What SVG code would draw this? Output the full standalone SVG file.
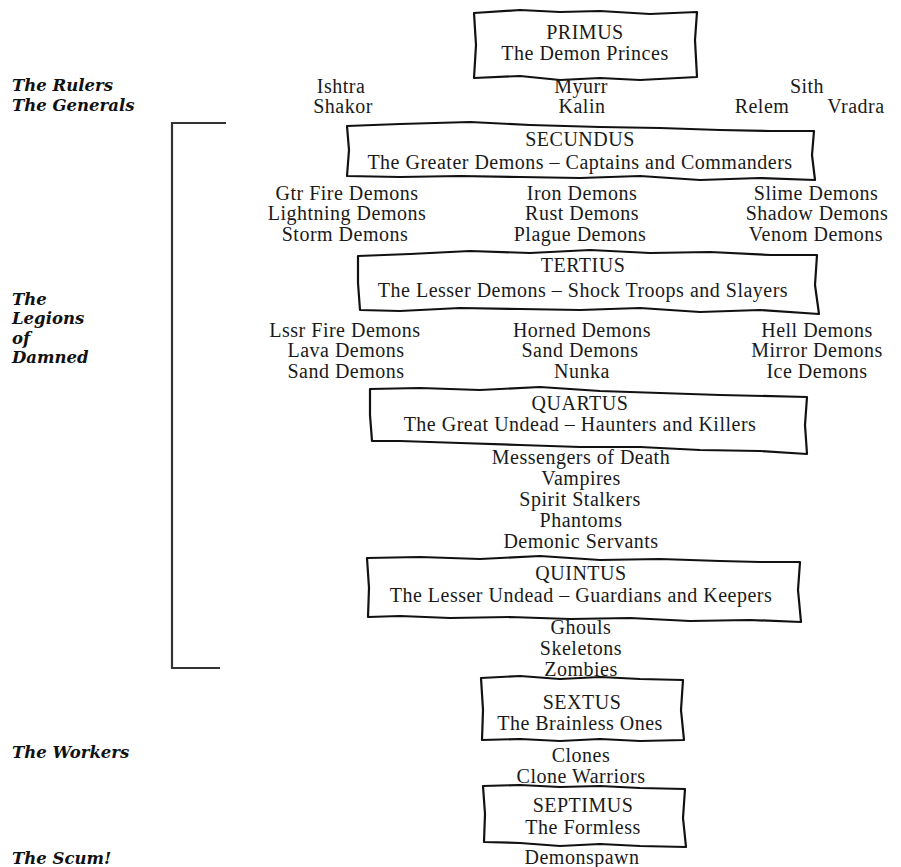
<svg xmlns="http://www.w3.org/2000/svg" width="901" height="867" viewBox="0 0 901 867">
<style>
.t{font-family:"Liberation Serif","Times New Roman",serif;font-size:20px;letter-spacing:0.5px;fill:#1a1a1a;text-anchor:middle}
.l{font-family:"DejaVu Serif","Liberation Serif",serif;font-size:16.5px;font-weight:bold;font-style:italic;fill:#111}
.box{fill:none;stroke:#111;stroke-width:2.2;stroke-linejoin:round}
.br{fill:none;stroke:#333;stroke-width:2.2}
</style>
<rect width="901" height="867" fill="#ffffff"/>

<g id="labels">
<text class="l" x="12" y="91">The Rulers</text>
<text class="l" x="12" y="111">The Generals</text>
<text class="l" x="12" y="305">The</text>
<text class="l" x="12" y="324">Legions</text>
<text class="l" x="12" y="344">of</text>
<text class="l" x="12" y="363">Damned</text>
<text class="l" x="12" y="758">The Workers</text>
<text class="l" x="12" y="864">The Scum!</text>
</g>

<g id="bracket">
<path class="br" d="M226,123 L172,123 L172,668 L220,668"/>
</g>

<g id="primus">
<path class="box" d="M474,13 L520,10 L560,12 L600,11 L650,14 L697,12 L695,40 L697,77 L640,80 L600,78 L560,80 L520,76 L474,78 L476,45 Z"/>
<text class="t" x="585" y="39">PRIMUS</text>
<text class="t" x="585" y="60">The Demon Princes</text>
</g>

<g id="rulers">
<text class="t" x="341" y="93">Ishtra</text>
<text class="t" x="343" y="113">Shakor</text>
<text class="t" x="581" y="93">Myurr</text>
<text class="t" x="582" y="113">Kalin</text>
<text class="t" x="807" y="93">Sith</text>
<text class="t" x="762" y="113">Relem</text>
<text class="t" x="856" y="113">Vradra</text>
</g>

<g id="secundus">
<path class="box" d="M347,126 L400,124 L470,122 L530,125 L600,127 L660,128 L720,130 L770,131 L814,131 L812,155 L815,180 L760,178 L700,180 L640,176 L580,178 L520,177 L460,176 L400,177 L347,176 L349,150 Z"/>
<text class="t" x="580" y="146">SECUNDUS</text>
<text class="t" x="580" y="169">The Greater Demons – Captains and Commanders</text>
</g>

<g id="secundus-members">
<text class="t" x="347" y="200">Gtr Fire Demons</text>
<text class="t" x="347" y="220">Lightning Demons</text>
<text class="t" x="345" y="241">Storm Demons</text>
<text class="t" x="582" y="200">Iron Demons</text>
<text class="t" x="582" y="220">Rust Demons</text>
<text class="t" x="580" y="241">Plague Demons</text>
<text class="t" x="816" y="200">Slime Demons</text>
<text class="t" x="817" y="220">Shadow Demons</text>
<text class="t" x="816" y="241">Venom Demons</text>
</g>

<g id="tertius">
<path class="box" d="M358,256 L410,254 L470,251 L530,253 L590,250 L650,253 L710,252 L770,255 L817,255 L815,285 L819,314 L760,310 L700,312 L640,308 L580,310 L520,309 L460,308 L400,311 L360,310 L358,283 Z"/>
<text class="t" x="583" y="272">TERTIUS</text>
<text class="t" x="583" y="297">The Lesser Demons – Shock Troops and Slayers</text>
</g>

<g id="tertius-members">
<text class="t" x="345" y="337">Lssr Fire Demons</text>
<text class="t" x="346" y="357">Lava Demons</text>
<text class="t" x="346" y="378">Sand Demons</text>
<text class="t" x="582" y="337">Horned Demons</text>
<text class="t" x="580" y="357">Sand Demons</text>
<text class="t" x="582" y="378">Nunka</text>
<text class="t" x="817" y="337">Hell Demons</text>
<text class="t" x="817" y="357">Mirror Demons</text>
<text class="t" x="817" y="378">Ice Demons</text>
</g>

<g id="quartus">
<path class="box" d="M370,389 L420,388 L480,390 L540,387 L600,391 L660,393 L720,395 L807,397 L805,425 L807,454 L760,451 L700,450 L640,447 L580,447 L520,445 L460,443 L400,441 L372,441 L370,415 Z"/>
<text class="t" x="580" y="410">QUARTUS</text>
<text class="t" x="580" y="431">The Great Undead – Haunters and Killers</text>
</g>

<g id="quartus-members">
<text class="t" x="581" y="464">Messengers of Death</text>
<text class="t" x="581" y="485">Vampires</text>
<text class="t" x="580" y="506">Spirit Stalkers</text>
<text class="t" x="581" y="527">Phantoms</text>
<text class="t" x="581" y="548">Demonic Servants</text>
</g>

<g id="quintus">
<path class="box" d="M367,558 L420,557 L480,559 L540,556 L600,560 L660,559 L720,561 L760,562 L800,562 L798,590 L801,622 L750,620 L690,621 L630,618 L570,619 L510,617 L450,618 L400,616 L368,617 L369,588 Z"/>
<text class="t" x="581" y="580">QUINTUS</text>
<text class="t" x="581" y="602">The Lesser Undead – Guardians and Keepers</text>
</g>

<g id="quintus-members">
<text class="t" x="581" y="634">Ghouls</text>
<text class="t" x="581" y="655">Skeletons</text>
<text class="t" x="581" y="676">Zombies</text>
</g>

<g id="sextus">
<path class="box" d="M481,678 L520,676 L560,679 L600,677 L640,679 L683,680 L681,710 L684,740 L640,741 L600,739 L560,741 L520,739 L482,740 L483,710 Z"/>
<text class="t" x="582" y="709">SEXTUS</text>
<text class="t" x="580" y="730">The Brainless Ones</text>
</g>

<g id="sextus-members">
<text class="t" x="581" y="762">Clones</text>
<text class="t" x="581" y="783">Clone Warriors</text>
</g>

<g id="septimus">
<path class="box" d="M483,786 L520,785 L560,787 L600,786 L640,788 L685,789 L683,818 L686,847 L640,846 L600,844 L560,846 L520,843 L484,842 L485,814 Z"/>
<text class="t" x="583" y="812">SEPTIMUS</text>
<text class="t" x="583" y="834">The Formless</text>
</g>

<g id="septimus-members">
<text class="t" x="582" y="864">Demonspawn</text>
</g>

<g id="connectors"></g>
</svg>
